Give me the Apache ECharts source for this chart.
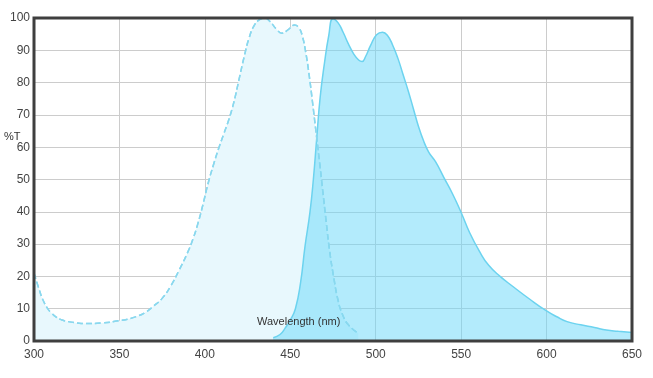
<!DOCTYPE html>
<html>
<head>
<meta charset="utf-8">
<script src="https://cdn.jsdelivr.net/npm/echarts@6/dist/echarts.min.js"></script>
<style>
html,body{margin:0;padding:0;background:#fff;}
#chart{width:653px;height:378px;}
</style>
</head>
<body>
<div id="chart"></div>
<script>
// Excitation (dashed) : [wavelength nm, %T]
var excitation = [
  [300,21],[303,16],[305,13],[308,10],[310,8.8],[313,7.4],[316,6.6],[320,6.0],[325,5.6],[330,5.4],
  [340,5.6],[350,6.3],[355,6.8],[360,7.6],[365,8.8],[370,10.8],[375,13.2],[380,17],[385,22],[390,27.5],
  [393,31.5],[396,36.5],[399,42.5],[402,49],[405,54.5],[408,59.5],[411,64],[414,68.5],[417,74],
  [420,81],[423,88],[426,94],[429,97.8],[432,99.5],[435,100],[438,99],[442,96.5],[445,95.3],
  [449,96.5],[452.5,97.8],[455,97],[457,94.5],[459,89.5],[461,82.5],[463,74],[465,65],[467,56],
  [469,46.5],[471,37],[473,28],[475.5,19.5],[478,12.5],[480.5,8.3],[484,5],[489.8,2.4]
];
// Emission (solid)
var emission = [
  [440,1],[444,2],[447,4],[450,6.5],[453,10],[456,18],[458.6,29.2],[461.5,39.8],[463.5,50],
  [465.5,63],[467.5,75.5],[470,86],[472.5,94.5],[475,99.8],[478,98.5],[481,95.5],[484,92],[487,89],
  [490,87],[492,86.5],[494,88],[497,91.5],[500.5,94.8],[504,95.6],[507,94.5],[510,91.5],[513,87.5],
  [516,82.5],[519,77.5],[522,72],[525,66.5],[528,62],[531,58.5],[535,55.5],[540,50.5],[545,45.5],
  [550,39.8],[555,33.5],[561,27.5],[566,23.5],[572.8,20],[580.5,16.8],[590,13],
  [600,9.3],[606,7.5],[612,6],[620,5],[628,4.2],[635,3.4],[642,3],[650,2.6]
];
var xTicks = [300,350,400,450,500,550,600,650];
var yTicks = [0,10,20,30,40,50,60,70,80,90,100];
var yName = '%T';
var xName = 'Wavelength (nm)';

var chart = echarts.init(document.getElementById('chart'), null, {renderer:'canvas'});
chart.setOption({
  animation:false,
  grid:{left:34,right:21,top:18,bottom:37,show:false},
  xAxis:{type:'value',min:xTicks[0],max:xTicks[xTicks.length-1],interval:50,
    axisLine:{show:false},axisTick:{show:false},
    axisLabel:{color:'#444',fontSize:12,fontFamily:'Liberation Sans, Arial, sans-serif',margin:8},
    splitLine:{show:true,lineStyle:{color:'#ccc',width:1}}},
  yAxis:{type:'value',min:yTicks[0],max:yTicks[yTicks.length-1],interval:10,
    axisLine:{show:false},axisTick:{show:false},
    axisLabel:{color:'#444',fontSize:12,fontFamily:'Liberation Sans, Arial, sans-serif',margin:4},
    splitLine:{show:true,lineStyle:{color:'#ccc',width:1}}},
  graphic:[
    {type:'rect',z:200,silent:true,
      shape:{x:34,y:18,width:598,height:323},
      style:{fill:'none',stroke:'#3f3f3f',lineWidth:3}},
    {type:'text',left:4,top:131,style:{text:yName,fill:'#333',font:'11px Liberation Sans, Arial, sans-serif'}},
    {type:'text',left:257,top:316,z:100,style:{text:xName,fill:'#333',font:'11px Liberation Sans, Arial, sans-serif'}}
  ],
  series:[
    {type:'line',data:excitation,smooth:0.5,symbol:'none',z:1,
      lineStyle:{color:'#8ad8ee',width:1.5,type:[6,3]},
      areaStyle:{color:'#e8f8fd',opacity:1}},
    {type:'line',data:emission,smooth:0.5,symbol:'none',z:2,
      lineStyle:{color:'#6cd3ef',width:1.5},
      areaStyle:{color:'rgba(103,215,249,0.5)',opacity:1}},
    {type:'line',data:excitation,smooth:0.5,symbol:'none',z:3,
      lineStyle:{color:'#8ad8ee',width:1.5,type:[6,3]}}
  ]
});
</script>
</body>
</html>
